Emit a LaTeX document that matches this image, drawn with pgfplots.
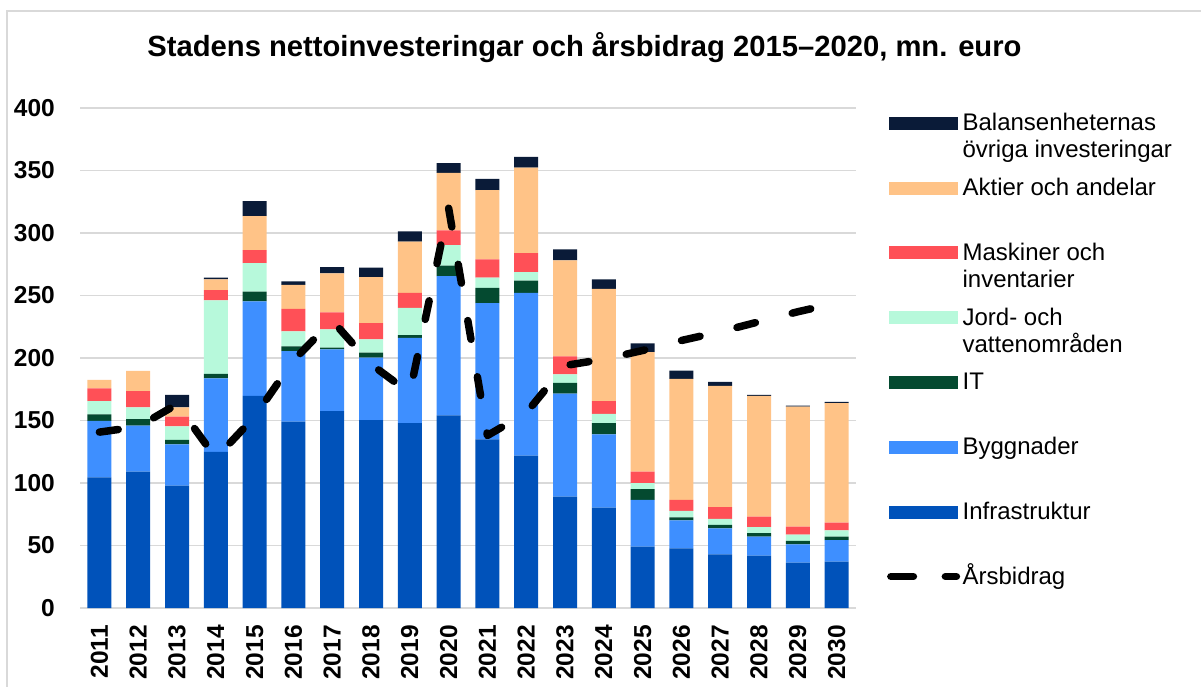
\documentclass[border=0pt]{standalone}
\usepackage{pgfplots}
\usepackage{pgfplotstable}
\pgfplotsset{compat=1.18}
\usepackage{fontspec}
\setmainfont{Liberation Sans}
\definecolor{cInfra}{RGB}{0,82,186}
\definecolor{cBygg}{RGB}{62,143,255}
\definecolor{cIT}{RGB}{4,74,48}
\definecolor{cJord}{RGB}{183,249,219}
\definecolor{cMask}{RGB}{255,80,87}
\definecolor{cAkt}{RGB}{255,195,135}
\definecolor{cBal}{RGB}{10,27,56}
\definecolor{cGrid}{RGB}{217,217,217}
\newcommand\lentry[1]{\raisebox{0pt}[17pt][0pt]{\begin{tabular}[t]{@{}l@{}}#1\end{tabular}}}
\pgfplotstableread{
x infra bygg it jord mask akt bal ars
0 104.6 45.2 5.2 10.5 10.2 6.9 0 140.7
1 109.2 36.7 5.3 9.4 12.9 16.3 0 145
2 97.9 33.1 3.6 10.8 7.7 7.5 9.9 163
3 125 58.7 3.6 58.8 8.2 8.6 1.4 120
4 169.7 75.5 7.8 22.9 10.4 27.1 12.1 153
5 149.2 56.3 3.9 11.8 18 19.3 2.7 198
6 157.5 49.4 1.4 14.6 13.5 31.2 5 230
7 150.3 50 4.1 10.5 13 36.7 7.7 195
8 147.9 68.1 2.2 21.8 12.1 40.9 8.2 172
9 154.2 111.2 8.5 16.3 11.9 46 7.8 320
10 134.9 109 12.1 8.3 14.6 55.4 8.9 138
11 121.9 130.2 9.7 6.9 15.2 68.4 8.5 156
12 89.1 82.5 8.5 6.9 14.4 76.7 8.8 194
13 80.3 58.7 8.9 7.4 10.2 89.7 7.7 199
14 49.1 37.5 8.6 4.7 9.3 95.5 6.9 206
15 47.7 22.4 2.5 5.2 8.8 96.8 6.6 214
16 43 20.7 2.8 4.9 9.4 96.9 3.3 221
17 41.9 15.2 2.8 4.9 8.3 96.6 0.8 229
18 36.4 14.6 2.8 5 6.3 96 0.8 237
19 37.2 17.1 2.8 5 6.3 95.5 1.1 244
}\data
\begin{document}
\begin{tikzpicture}
\useasboundingbox (0,0) rectangle (1201pt,686pt);
\draw[cGrid, line width=1.3pt] (7pt,-10pt) -- (7pt,675pt) -- (1210pt,675pt);
\node[font=\bfseries\fontsize{29.2}{34}\selectfont] at (584.5pt,638pt) {Stadens nettoinvesteringar och årsbidrag 2015–2020, mn. euro};
\begin{axis}[
  at={(80pt,78pt)}, anchor=south west,
  scale only axis, width=776pt, height=500pt,
  xmin=-0.5, xmax=19.5, ymin=0, ymax=400,
  ybar stacked, bar width=24pt,
  xtick={0,...,19},
  xticklabels={2011,2012,2013,2014,2015,2016,2017,2018,2019,2020,2021,2022,2023,2024,2025,2026,2027,2028,2029,2030},
  ytick={0,50,...,400},
  ymajorgrids, grid style={cGrid, line width=1.3pt},
  axis line style={draw=none},
  major tick length=0pt,
  /pgf/number format/assume math mode=true,
  tick label style={font=\bfseries\fontsize{24.5}{24.5}\selectfont},
  xticklabel style={rotate=90, anchor=east, inner sep=0pt},
  yticklabel style={anchor=east, inner sep=0pt},
  xticklabel shift=17pt, yticklabel shift=25pt,
  legend style={at={(1.0425,0.989)}, anchor=north west, draw=none, fill=none,
    inner sep=0pt, row sep=46.3pt, column sep=5pt,
    font=\fontsize{24}{27}\selectfont,
    nodes={inner sep=0pt}},
  legend cell align=left,
]
\addlegendimage{legend image code/.code={\fill[cBal] (0pt,-6pt) rectangle (68pt,6pt);}}
\addlegendentry{\lentry{Balansenheternas\\övriga investeringar}}
\addlegendimage{legend image code/.code={\fill[cAkt] (0pt,-6pt) rectangle (68pt,6pt);}}
\addlegendentry{\lentry{Aktier och andelar}}
\addlegendimage{legend image code/.code={\fill[cMask] (0pt,-6pt) rectangle (68pt,6pt);}}
\addlegendentry{\lentry{Maskiner och\\inventarier}}
\addlegendimage{legend image code/.code={\fill[cJord] (0pt,-6pt) rectangle (68pt,6pt);}}
\addlegendentry{\lentry{Jord- och\\vattenområden}}
\addlegendimage{legend image code/.code={\fill[cIT] (0pt,-6pt) rectangle (68pt,6pt);}}
\addlegendentry{\lentry{IT}}
\addlegendimage{legend image code/.code={\fill[cBygg] (0pt,-6pt) rectangle (68pt,6pt);}}
\addlegendentry{\lentry{Byggnader}}
\addlegendimage{legend image code/.code={\fill[cInfra] (0pt,-6pt) rectangle (68pt,6pt);}}
\addlegendentry{\lentry{Infrastruktur}}
\addlegendimage{legend image code/.code={\path[draw=none, fill=none] (0pt,-6pt) rectangle (68pt,6pt); \draw[overlay, black, line width=7.5pt, line cap=round] (1.5pt,0pt) -- (24pt,0pt); \draw[overlay, black, line width=7.5pt, line cap=round] (56pt,0pt) -- (67pt,0pt);}}
\addlegendentry{\lentry{Årsbidrag}}
\addplot[fill=cInfra, draw=none, forget plot] table[x=x,y=infra]{\data};
\addplot[fill=cBygg, draw=none, forget plot] table[x=x,y=bygg]{\data};
\addplot[fill=cIT, draw=none, forget plot] table[x=x,y=it]{\data};
\addplot[fill=cJord, draw=none, forget plot] table[x=x,y=jord]{\data};
\addplot[fill=cMask, draw=none, forget plot] table[x=x,y=mask]{\data};
\addplot[fill=cAkt, draw=none, forget plot] table[x=x,y=akt]{\data};
\addplot[fill=cBal, draw=none, forget plot] table[x=x,y=bal]{\data};
\end{axis}
\begin{axis}[
  at={(80pt,78pt)}, anchor=south west,
  scale only axis, width=776pt, height=500pt,
  xmin=-0.5, xmax=19.5, ymin=0, ymax=400,
  hide axis, clip=false,
]
\addplot[black, line width=7.5pt, line cap=round, line join=round, dash pattern=on 19pt off 38pt, mark=none, sharp plot] table[x=x,y=ars]{\data};
\end{axis}
\end{tikzpicture}
\end{document}
